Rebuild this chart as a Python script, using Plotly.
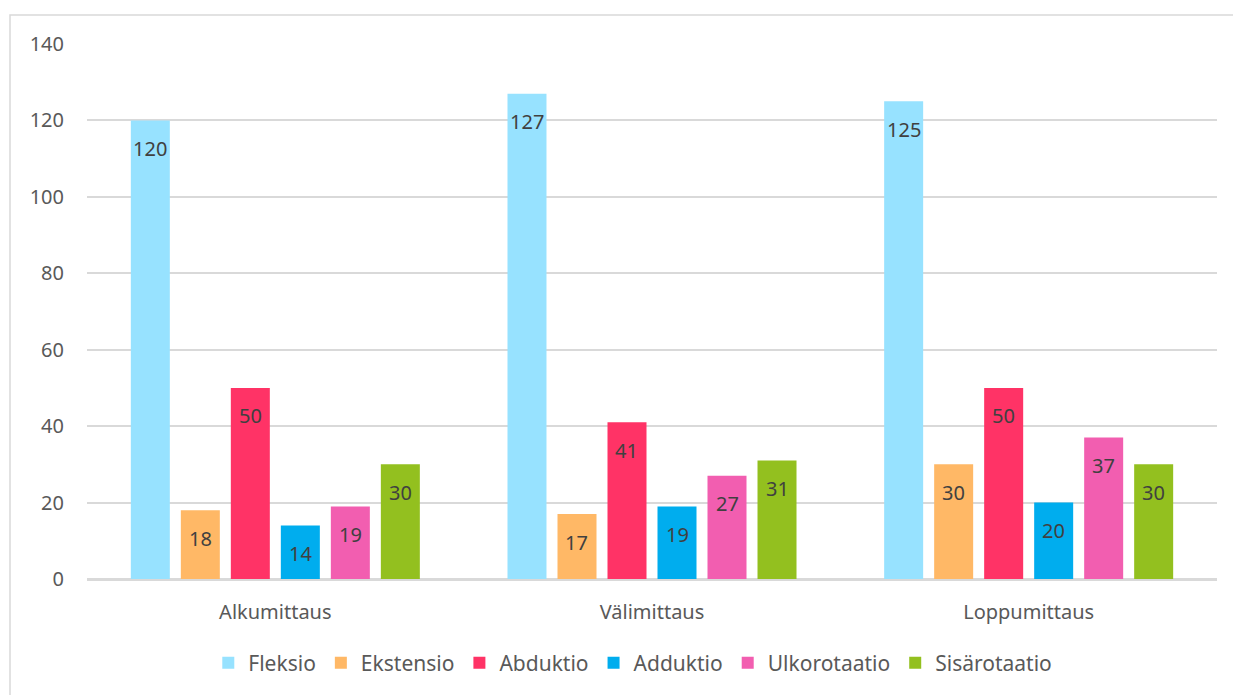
import plotly.graph_objects as go

categories = ["Alkumittaus", "Välimittaus", "Loppumittaus"]
series_names = ["Fleksio", "Ekstensio", "Abduktio", "Adduktio", "Ulkorotaatio", "Sisärotaatio"]
fleksio = [120, 127, 125]
ekstensio = [18, 17, 30]
abduktio = [50, 41, 50]
adduktio = [14, 19, 20]
ulkorotaatio = [19, 27, 37]
sisarotaatio = [30, 31, 30]
series_values = [fleksio, ekstensio, abduktio, adduktio, ulkorotaatio, sisarotaatio]
colors = ["#97E2FF", "#FFB866", "#FF3366", "#00ADEE", "#F25EB0", "#93C01F"]
y_ticks = [0, 20, 40, 60, 80, 100, 120, 140]

W, H = 1233, 695
ML, MR, MT, MB = 87, 16, 44, 116
BARGAP = 0.2035
BARGROUPGAP = 0.22
FONT = "Noto Sans"

fig = go.Figure()
for name, vals, col in zip(series_names, series_values, colors):
    fig.add_trace(go.Bar(
        name=name, x=categories, y=vals,
        marker=dict(color=col, line=dict(width=0)),
        hoverinfo="x+y+name",
    ))

# data labels (inside end), positioned via axes with per-series group offset
plot_w = W - ML - MR
slot = plot_w / len(categories) * (1 - BARGAP) / len(series_names)
n = len(series_names)
for i, (vals, col) in enumerate(zip(series_values, colors)):
    for c, v in zip(categories, vals):
        fig.add_annotation(
            x=c, y=v, xref="x", yref="y",
            text=str(v), showarrow=False,
            xshift=(i - (n - 1) / 2) * slot, yshift=-28,
            yanchor="middle", xanchor="center",
            font=dict(family=FONT, size=20, color="#404040"),
        )

fig.update_layout(
    width=W, height=H,
    margin=dict(l=ML, r=MR, t=MT, b=MB, autoexpand=False),
    paper_bgcolor="white", plot_bgcolor="white",
    barmode="group", bargap=BARGAP, bargroupgap=BARGROUPGAP,
    font=dict(family=FONT, size=20, color="#595959"),
    legend=dict(orientation="h", x=0.483, xanchor="center", y=-0.157, yanchor="middle",
                font=dict(family=FONT, size=21, color="#595959"),
                itemclick=False, itemdoubleclick=False),
    xaxis=dict(showgrid=False, showline=True, linecolor="#D9D9D9", linewidth=2,
               ticks="", tickfont=dict(size=20, color="#595959"), ticklabelstandoff=14),
    yaxis=dict(range=[0, 140], tickvals=y_ticks, showgrid=True, gridcolor="#D9D9D9", gridwidth=1.5,
               zeroline=True, zerolinecolor="#D9D9D9", zerolinewidth=2, showline=False,
               ticks="", tickfont=dict(size=20, color="#595959"), ticklabelstandoff=22),
    shapes=[dict(type="rect", xref="paper", yref="paper",
                 x0=(10 - ML) / plot_w, x1=1.05,
                 y0=-0.3, y1=(H - MB - 15) / (H - MT - MB),
                 line=dict(color="#D9D9D9", width=1.5), layer="below")],
)

fig.write_html("out.html")
